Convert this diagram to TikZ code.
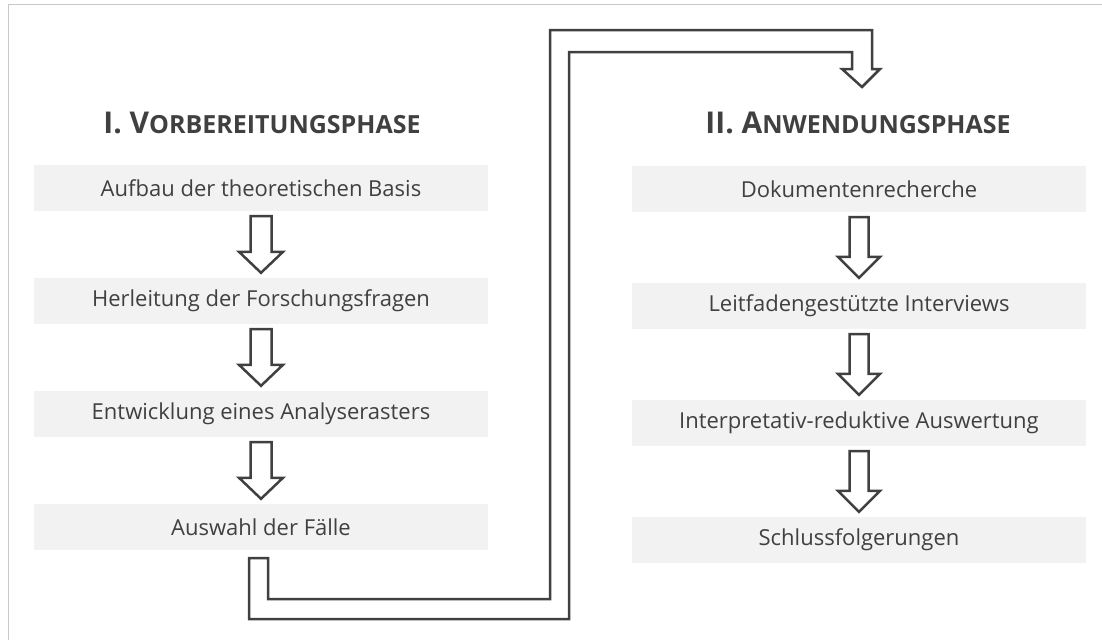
\documentclass[tikz,border=0pt]{standalone}
\usepackage{fontspec}
\setmainfont{Open Sans}
\usetikzlibrary{calc}
\definecolor{boxgray}{HTML}{F2F2F2}
\definecolor{ink}{HTML}{404040}
\definecolor{framegray}{HTML}{C8C8C8}
\tikzset{
  stepbox/.style={fill=boxgray, minimum width=454pt, minimum height=46pt, inner sep=0pt, text=ink, font=\fontsize{22}{26}\selectfont},
  phasetitle/.style={anchor=base, text=ink, font=\bfseries\fontsize{30}{34}\selectfont, inner sep=0pt},
  blockarr/.style={draw=ink, line width=2.5pt, fill=white, line join=miter},
  framestyle/.style={draw=framegray, line width=1.5pt},
}
\newcommand\sctext[1]{{\fontsize{25}{28}\selectfont #1}}
\newcommand\blockarrow[5]{%
  \path[blockarr] let \p1=(#1.south), \p2=(#2.north) in
    (\x1-#3pt,\y1-5pt) -- (\x1+#3pt,\y1-5pt) -- (\x1+#3pt,\y2+5pt+#5pt) -- (\x1+#4pt,\y2+5pt+#5pt)
    -- (\x1,\y2+5pt) -- (\x1-#4pt,\y2+5pt+#5pt) -- (\x1-#3pt,\y2+5pt+#5pt) -- cycle;}
\begin{document}
\begin{tikzpicture}[x=1pt,y=-1pt]
\useasboundingbox (0,0) rectangle (1102,640);
\path[framestyle] (8.5,640) -- (8.5,4.5) -- (1102,4.5);
\node[phasetitle] (t1) at (262,133) {I. V\sctext{ORBEREITUNGSPHASE}};
\node[phasetitle] (t2) at (858,133) {II. A\sctext{NWENDUNGSPHASE}};
\node[stepbox] (l1) at (261,188) {Aufbau der theoretischen Basis};
\node[stepbox] (l2) at (261,301) {Herleitung der Forschungsfragen};
\node[stepbox] (l3) at (261,414) {Entwicklung eines Analyserasters};
\node[stepbox] (l4) at (261,527) {Auswahl der Fälle};
\node[stepbox] (r1) at (859,189) {Dokumentenrecherche};
\node[stepbox] (r2) at (859,306) {Leitfadengestützte Interviews};
\node[stepbox] (r3) at (859,423) {Interpretativ-reduktive Auswertung};
\node[stepbox] (r4) at (859,540) {Schlussfolgerungen};
\blockarrow{l1}{l2}{10.5}{22}{21}
\blockarrow{l2}{l3}{10.5}{22}{21}
\blockarrow{l3}{l4}{10.5}{22}{21}
\blockarrow{r1}{r2}{9.5}{21}{21}
\blockarrow{r2}{r3}{9.5}{21}{21}
\blockarrow{r3}{r4}{9.5}{21}{21}
\coordinate (ctip) at (862,87);
\coordinate (s1) at ($(l4.south)+(-12,8)$);
\coordinate (s2) at ($(l4.south)+(7,8)$);
\path[blockarr] (s1) -- (s1 |- 0,619) -- (569,619) -- (569,52) -- (852,52) -- (852,69) -- (842,69)
  -- (ctip) -- (880,69) -- (872,69) -- (872,30) -- (550,30) -- (550,599) -- (s2 |- 0,599) -- (s2) -- cycle;
\end{tikzpicture}
\end{document}
